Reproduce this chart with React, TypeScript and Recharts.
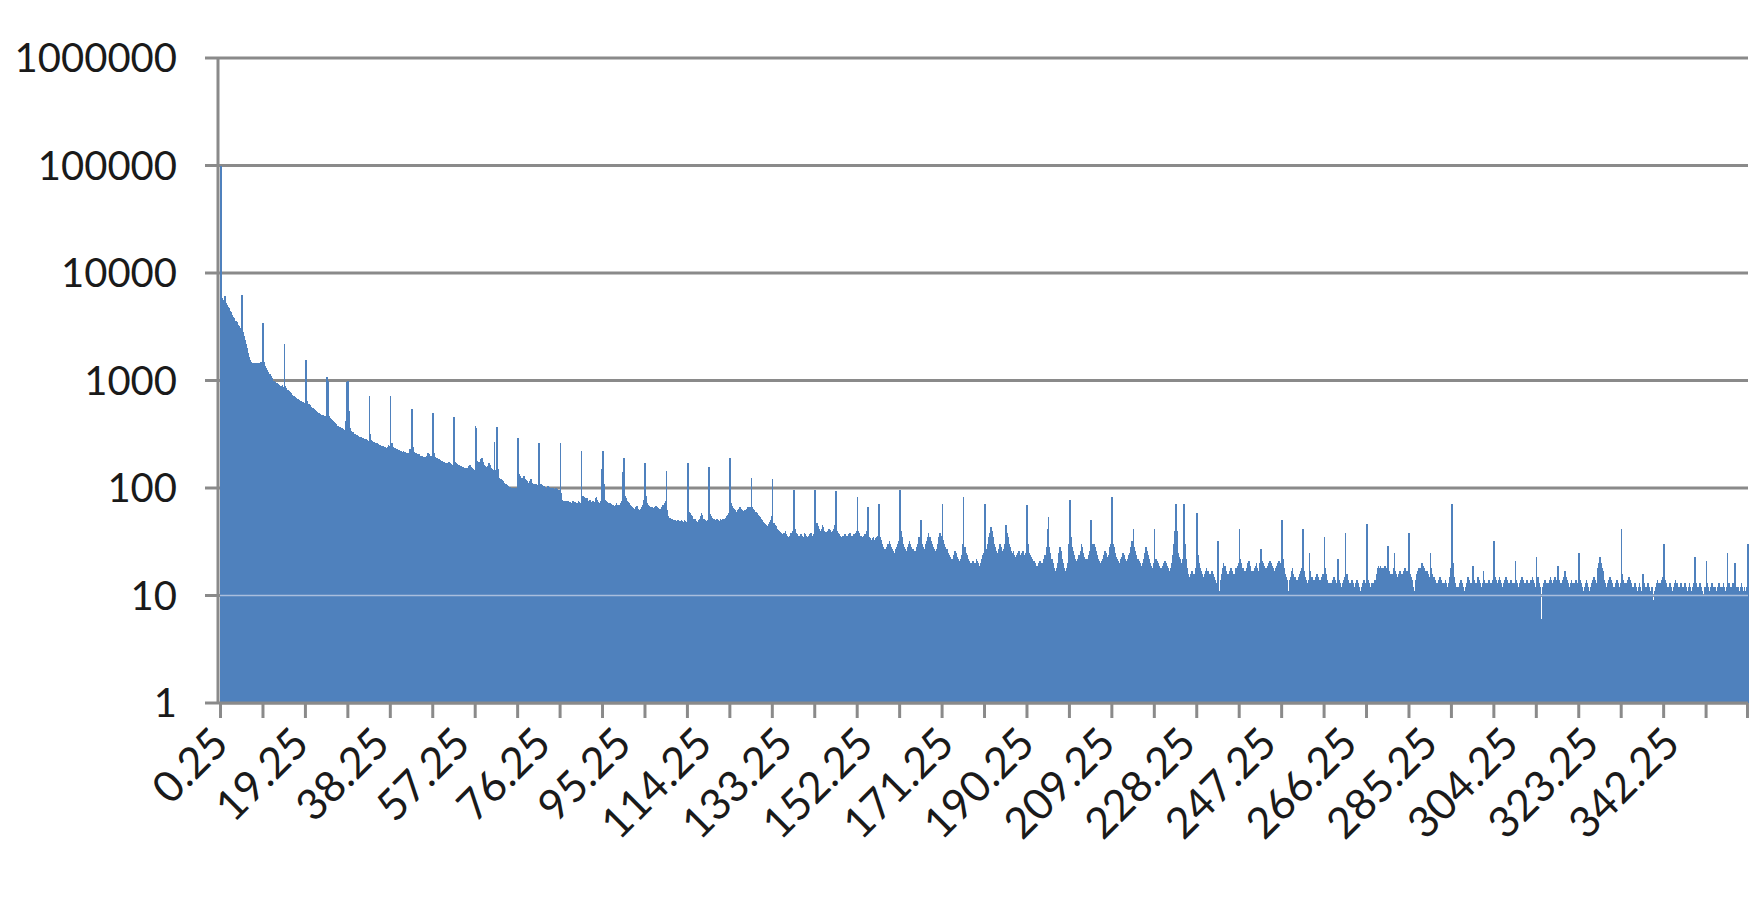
import React from 'react';
import { BarChart, Bar, XAxis, YAxis, CartesianGrid, ReferenceLine } from 'recharts';

// Counts per 0.25-wide bin, 20 bins (5 units) per row.
const counts0to90: number[][] = [
  [98000, 5900, 5600, 5500, 6100, 5300, 5000, 4800, 4700, 4400, 4300, 4100, 3900, 3800, 3600, 3500, 3300, 3200, 3100, 3000],
  [6300, 2800, 2600, 2400, 2200, 2000, 1800, 1650, 1550, 1480, 1450, 1460, 1430, 1450, 1420, 1440, 1400, 1450, 1500, 1380],
  [3400, 1500, 1350, 1300, 1250, 1200, 1150, 1100, 1050, 1000, 980, 960, 950, 940, 920, 900, 890, 880, 900, 870],
  [2200, 880, 850, 820, 800, 780, 760, 740, 720, 710, 700, 690, 680, 670, 660, 650, 640, 630, 625, 620],
  [1540, 640, 610, 600, 590, 570, 560, 550, 540, 530, 520, 510, 500, 495, 490, 480, 475, 470, 465, 460],
  [1080, 980, 470, 450, 440, 430, 420, 410, 400, 390, 380, 375, 370, 365, 360, 355, 350, 345, 420, 960],
  [1000, 520, 360, 340, 335, 330, 320, 315, 310, 305, 300, 300, 295, 290, 290, 285, 280, 285, 280, 275],
  [710, 320, 280, 275, 270, 265, 260, 260, 255, 250, 250, 248, 245, 245, 242, 240, 238, 240, 250, 245],
  [710, 260, 240, 238, 235, 232, 230, 228, 225, 222, 220, 218, 220, 215, 215, 212, 210, 212, 230, 220],
  [540, 240, 215, 212, 210, 208, 205, 205, 200, 200, 198, 196, 195, 195, 200, 210, 205, 200, 198, 195],
  [497, 210, 195, 192, 190, 188, 185, 182, 180, 178, 175, 172, 170, 168, 170, 175, 172, 168, 165, 163],
  [458, 175, 170, 168, 165, 162, 160, 158, 156, 155, 153, 152, 150, 155, 160, 165, 158, 152, 150, 148],
  [376, 360, 180, 175, 170, 185, 190, 175, 165, 160, 158, 155, 160, 170, 165, 155, 150, 148, 270, 147],
  [373, 150, 125, 122, 120, 118, 115, 112, 110, 108, 106, 105, 103, 102, 101, 100, 99, 98, 99, 97],
  [292, 135, 128, 125, 120, 125, 130, 122, 118, 115, 112, 115, 120, 112, 108, 105, 110, 108, 106, 104],
  [262, 110, 108, 106, 105, 104, 102, 100, 104, 102, 100, 99, 98, 100, 98, 97, 99, 98, 96, 95],
  [262, 90, 77, 76, 75, 74, 76, 75, 73, 74, 72, 73, 75, 72, 74, 73, 72, 75, 74, 72],
  [220, 85, 82, 80, 78, 80, 76, 75, 78, 74, 73, 76, 74, 80, 82, 78, 74, 73, 75, 150],
];
const counts90to180: number[][] = [
  [220, 110, 77, 75, 74, 72, 70, 72, 71, 70, 69, 68, 70, 72, 69, 68, 70, 72, 75, 140],
  [189, 85, 80, 76, 74, 72, 70, 68, 66, 65, 64, 66, 68, 64, 63, 62, 64, 66, 70, 78],
  [171, 85, 72, 70, 68, 67, 66, 65, 64, 66, 68, 67, 65, 64, 63, 64, 66, 70, 72, 75],
  [145, 62, 55, 53, 52, 51, 50, 49, 50, 48, 49, 50, 48, 49, 50, 49, 48, 50, 49, 48],
  [170, 60, 58, 56, 55, 52, 50, 51, 49, 48, 50, 52, 55, 58, 56, 52, 50, 49, 48, 50],
  [158, 57, 55, 53, 52, 51, 50, 52, 51, 50, 49, 51, 50, 52, 51, 50, 53, 55, 56, 58],
  [189, 72, 68, 65, 64, 62, 60, 62, 64, 66, 64, 62, 61, 60, 62, 63, 64, 66, 65, 67],
  [123, 67, 64, 62, 60, 58, 56, 55, 54, 52, 50, 48, 47, 46, 45, 44, 46, 48, 50, 55],
  [121, 47, 45, 44, 42, 41, 40, 39, 38, 37, 36, 38, 40, 37, 36, 35, 36, 38, 37, 40],
  [95, 42, 38, 37, 36, 36, 35, 37, 36, 35, 38, 37, 36, 35, 36, 37, 38, 36, 35, 37],
  [95, 45, 47, 44, 42, 40, 42, 45, 43, 40, 39, 38, 40, 42, 41, 39, 38, 40, 42, 45],
  [94, 40, 38, 37, 36, 35, 36, 35, 37, 36, 35, 36, 37, 38, 36, 35, 36, 37, 38, 40],
  [82, 40, 38, 36, 35, 34, 36, 37, 36, 40, 67, 35, 34, 33, 34, 35, 33, 34, 35, 36],
  [71, 35, 33, 30, 28, 27, 26, 27, 28, 30, 32, 30, 28, 27, 26, 25, 27, 28, 30, 32],
  [96, 40, 35, 30, 28, 27, 26, 28, 30, 32, 30, 28, 27, 26, 25, 26, 28, 30, 35, 33],
  [50, 30, 28, 27, 30, 32, 35, 38, 35, 32, 30, 28, 27, 26, 25, 27, 30, 35, 38, 36],
  [71, 33, 30, 28, 27, 25, 24, 23, 22, 21, 22, 24, 26, 25, 23, 22, 21, 22, 24, 30],
  [82, 28, 25, 24, 22, 21, 20, 19, 20, 21, 19, 20, 22, 21, 20, 19, 20, 22, 24, 25],
];
const counts180to270: number[][] = [
  [71, 25, 27, 30, 35, 38, 43, 40, 35, 30, 28, 26, 25, 27, 30, 28, 26, 25, 27, 30],
  [45, 38, 35, 30, 28, 26, 25, 26, 24, 23, 24, 25, 26, 24, 23, 25, 26, 24, 23, 25],
  [69, 30, 25, 24, 23, 22, 21, 20, 19, 18, 19, 20, 21, 20, 19, 20, 22, 24, 28, 42],
  [54, 28, 25, 22, 20, 18, 17, 16, 18, 20, 25, 28, 26, 22, 20, 18, 17, 18, 20, 30],
  [77, 35, 28, 26, 24, 22, 21, 20, 22, 24, 26, 30, 28, 25, 23, 22, 21, 22, 24, 26],
  [50, 30, 28, 30, 28, 26, 24, 22, 21, 20, 21, 22, 24, 26, 25, 23, 22, 24, 28, 30],
  [82, 30, 28, 25, 23, 22, 21, 20, 22, 23, 25, 24, 22, 21, 20, 22, 24, 25, 28, 32],
  [42, 28, 26, 24, 22, 21, 20, 19, 18, 20, 22, 25, 28, 26, 24, 22, 20, 19, 18, 20],
  [42, 22, 21, 20, 19, 18, 17, 18, 19, 20, 21, 20, 19, 18, 17, 18, 20, 24, 30, 40],
  [71, 40, 25, 23, 22, 20, 18, 22, 71, 30, 22, 18, 16, 15, 16, 17, 16, 15, 16, 18],
  [59, 24, 20, 18, 17, 16, 15, 16, 17, 18, 17, 16, 15, 16, 17, 16, 15, 14, 13, 12],
  [32, 11, 14, 16, 18, 20, 19, 17, 16, 15, 16, 17, 18, 17, 16, 15, 16, 18, 19, 20],
  [42, 22, 20, 18, 17, 16, 17, 18, 20, 21, 19, 17, 16, 17, 18, 19, 20, 18, 17, 20],
  [27, 21, 20, 19, 18, 17, 18, 19, 20, 21, 20, 19, 18, 17, 18, 19, 20, 21, 20, 19],
  [50, 22, 18, 16, 15, 14, 11, 14, 15, 17, 18, 16, 15, 14, 13, 14, 15, 16, 17, 18],
  [42, 17, 15, 14, 13, 14, 25, 17, 15, 14, 13, 14, 15, 16, 15, 14, 13, 14, 15, 16],
  [35, 18, 16, 14, 13, 13, 12, 13, 14, 15, 14, 13, 12, 22, 14, 13, 12, 13, 14, 15],
  [38, 16, 14, 13, 12, 13, 14, 13, 12, 12, 13, 14, 13, 12, 11, 12, 13, 14, 13, 12],
];
const counts270to360: number[][] = [
  [46, 14, 13, 12, 12, 13, 12, 13, 14, 16, 18, 19, 18, 19, 18, 17, 18, 19, 18, 17],
  [29, 17, 16, 15, 16, 18, 25, 17, 16, 15, 16, 17, 16, 15, 16, 17, 18, 17, 16, 17],
  [38, 16, 15, 14, 12, 11, 14, 16, 17, 18, 17, 18, 20, 19, 18, 17, 16, 17, 16, 15],
  [25, 18, 16, 15, 14, 13, 12, 13, 14, 15, 14, 13, 12, 13, 14, 13, 12, 13, 15, 18],
  [71, 20, 15, 13, 12, 12, 11, 12, 13, 14, 13, 12, 11, 12, 13, 15, 14, 13, 12, 13],
  [19, 14, 13, 12, 13, 15, 14, 13, 12, 13, 17, 14, 13, 12, 13, 14, 13, 12, 13, 14],
  [32, 15, 14, 13, 14, 15, 14, 13, 12, 13, 14, 15, 14, 13, 12, 13, 14, 13, 12, 13],
  [21, 14, 13, 12, 13, 14, 15, 14, 13, 12, 13, 14, 13, 12, 13, 14, 15, 14, 13, 12],
  [23, 15, 13, 12, 6, 6, 12, 13, 14, 13, 12, 13, 14, 15, 14, 13, 14, 15, 14, 13],
  [19, 14, 13, 12, 13, 14, 15, 17, 15, 14, 13, 12, 13, 14, 13, 12, 13, 14, 13, 12],
  [25, 14, 13, 12, 11, 12, 13, 14, 13, 12, 11, 12, 13, 14, 15, 14, 13, 12, 18, 20],
  [23, 20, 18, 17, 14, 13, 12, 13, 14, 15, 14, 13, 12, 9, 12, 13, 14, 13, 12, 13],
  [42, 16, 14, 13, 12, 13, 14, 15, 14, 13, 12, 11, 12, 13, 12, 11, 12, 13, 12, 11],
  [16, 13, 12, 11, 12, 13, 12, 11, 10, 12, 9, 11, 12, 13, 14, 13, 12, 13, 14, 15],
  [30, 14, 13, 12, 11, 12, 13, 12, 11, 12, 13, 14, 13, 12, 11, 12, 13, 12, 11, 12],
  [13, 12, 11, 12, 13, 12, 11, 12, 13, 23, 13, 12, 11, 12, 13, 12, 11, 10, 9, 12],
  [21, 13, 12, 11, 12, 13, 12, 11, 12, 11, 9, 12, 13, 12, 11, 12, 13, 12, 11, 12],
  [25, 13, 12, 11, 12, 13, 12, 20, 12, 11, 12, 11, 12, 13, 12, 11, 12, 11, 12, 30],
];

const binWidth = 0.25;
const counts: number[] = [...counts0to90, ...counts90to180, ...counts180to270, ...counts270to360].flat();
const categories: string[] = counts.map((_, i) => String((i + 1) * binWidth));

const xTickLabels: string[] = [
  '0.25', '19.25', '38.25', '57.25', '76.25', '95.25', '114.25', '133.25', '152.25', '171.25',
  '190.25', '209.25', '228.25', '247.25', '266.25', '285.25', '304.25', '323.25', '342.25',
];
const tickMarkEvery = 40;
const yTicks: number[] = [1, 10, 100, 1000, 10000, 100000, 1000000];

const data = categories.map((x, i) => ({ x, v: counts[i] }));
const catIndex = new Map<string, number>(categories.map((c, i) => [c, i]));
const labelSet = new Set<string>(xTickLabels);

const AXIS = '#8a8a8a';
const TEXT = '#1a1a1a';
const FONT = 'Lato, "Open Sans", sans-serif';
const BLUE = '#4f81bd';

function XTick(props: any) {
  const { x, y, payload } = props;
  const value = String(payload?.value);
  const idx = catIndex.get(value) ?? -1;
  const isMark = idx >= 0 && (idx % tickMarkEvery === 0 || idx === categories.length - 1);
  const isLabel = labelSet.has(value);
  if (!isMark && !isLabel) return <g />;
  const tx = x + 10;
  const ty = y + 28;
  return (
    <g>
      {isMark && <line x1={x} x2={x} y1={y - 15} y2={y} stroke={AXIS} strokeWidth={3} />}
      {isLabel && (
        <text
          x={tx}
          y={ty}
          textAnchor="end"
          transform={`rotate(-45, ${tx}, ${ty})`}
          fontSize={43}
          fontFamily={FONT}
          fill={TEXT}
        >
          {value}
        </text>
      )}
    </g>
  );
}

function BinBar(props: any) {
  const { x, y, width, height } = props;
  if (!(height > 0)) return <g />;
  return (
    <rect
      x={x}
      y={y}
      width={width + 0.7}
      height={height}
      fill={BLUE}
      shapeRendering="crispEdges"
    />
  );
}

export default function App() {
  return (
    <div style={{ width: 1756, height: 900, background: '#fff' }}>
      <BarChart
        width={1756}
        height={900}
        data={data}
        margin={{ top: 50, right: 16, bottom: 0, left: 0 }}
        barCategoryGap={0}
        barGap={0}
      >
        <CartesianGrid vertical={false} stroke={AXIS} strokeWidth={3} strokeDasharray="" />
        <XAxis
          dataKey="x"
          interval={0}
          height={205}
          tickSize={15}
          tickMargin={0}
          tickLine={false}
          axisLine={{ stroke: AXIS, strokeWidth: 3 }}
          tick={<XTick />}
        />
        <YAxis
          type="number"
          scale="log"
          domain={[1, 1000000]}
          ticks={yTicks}
          allowDataOverflow
          interval={0}
          width={212}
          tickSize={15}
          tickMargin={28}
          axisLine={{ stroke: AXIS, strokeWidth: 3, transform: 'translate(-2, 0)' }}
          tickLine={{ stroke: AXIS, strokeWidth: 3 }}
          tick={{ fontSize: 40, fill: TEXT, fontFamily: FONT }}
        />
        <Bar dataKey="v" fill={BLUE} shape={<BinBar />} isAnimationActive={false} />
        <ReferenceLine y={10} stroke="#a9bedd" strokeWidth={1.5} />
      </BarChart>
    </div>
  );
}
